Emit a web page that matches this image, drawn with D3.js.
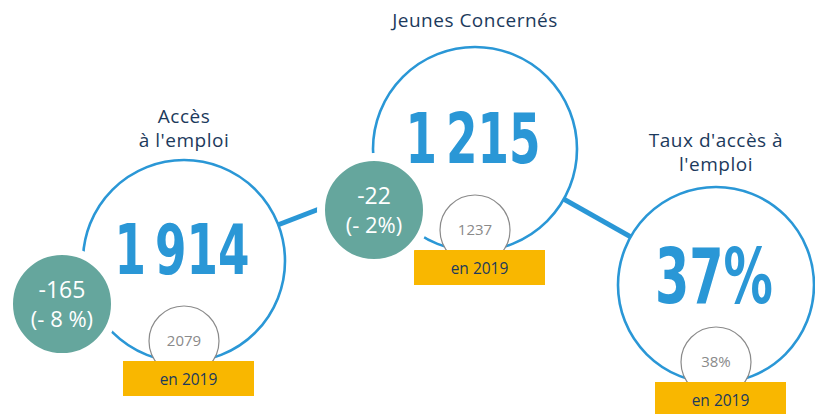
<!DOCTYPE html>
<html><head><meta charset="utf-8">
<script src="https://cdn.jsdelivr.net/npm/d3@7"></script>
<style>
html,body{margin:0;padding:0;background:#fff;}
svg{display:block;}
</style></head>
<body>
<svg id="chart" width="815" height="414"></svg>
<script>
// ---- data ----
const titles = [["Accès", "à l'emploi"], ["Jeunes Concernés"], ["Taux d'accès à", "l'emploi"]];
const values = ["1 914", "1 215", "37%"];
const changes = ["-165", "-22", null];
const changePct = ["(- 8 %)", "(- 2%)", null];
const previous = ["2079", "1237", "38%"];
const yearLabel = "en 2019";

// ---- layout (positions, not data) ----
const layout = [
  {cx: 184, cy: 261, r: 101, gx: 62,  gy: 304, titleY: 123, valueY: 274, valueW: 135, fs: 70},
  {cx: 475, cy: 149, r: 102, gx: 374, gy: 210, titleY: 27,  valueY: 163, valueW: 135, fs: 70},
  {cx: 716, cy: 285, r: 98,  gx: null, gy: null, titleY: 147, valueY: 303, valueW: 118, fs: 76}
];
const smallR = 35, gR = 53;
const blue = "#2a97d6", green = "#65a69d", yellow = "#f9b700", navy = "#1c3a5c", grey = "#8a8a8a";

const svg = d3.select("#chart");
const idx = d3.range(values.length);

// connectors
const link = d3.line().x(i => layout[i].cx).y(i => layout[i].cy);
svg.append("path").attr("d", link([0,1])).attr("stroke", blue).attr("stroke-width", 5).attr("fill", "none");
svg.append("path").attr("d", link([1,2])).attr("stroke", blue).attr("stroke-width", 5).attr("fill", "none");

const g = svg.selectAll("g.item").data(idx).join("g").attr("class", "item");

// main circles
g.append("circle")
  .attr("cx", i => layout[i].cx).attr("cy", i => layout[i].cy).attr("r", i => layout[i].r)
  .attr("fill", "#fff").attr("stroke", blue).attr("stroke-width", 2.6);

// titles
g.each(function(i) {
  const t = d3.select(this).append("text")
    .attr("text-anchor", "middle").attr("fill", navy)
    .attr("font-family", "'Open Sans', 'Noto Sans', sans-serif").attr("font-size", 19)
    .attr("letter-spacing", 0.5);
  titles[i].forEach((line, k) => {
    t.append("tspan").attr("x", layout[i].cx).attr("y", layout[i].titleY + k * 24).text(line);
  });
});

// big values (thin space between thousands)
g.append("text")
  .attr("x", i => layout[i].cx - 2).attr("y", i => layout[i].valueY)
  .attr("text-anchor", "middle").attr("fill", blue)
  .attr("font-family", "'Liberation Sans Narrow', 'DejaVu Sans Condensed', 'Roboto Condensed', sans-serif")
  .attr("font-weight", "bold").attr("font-size", i => layout[i].fs)
  .attr("textLength", i => layout[i].valueW).attr("lengthAdjust", "spacingAndGlyphs")
  .text(i => values[i].replace(" ", "\u2009"));

// small previous-year circles
g.append("circle")
  .attr("cx", i => layout[i].cx).attr("cy", i => layout[i].cy + layout[i].r - 21)
  .attr("r", smallR).attr("fill", "#fff").attr("stroke", grey).attr("stroke-width", 1.2);
g.append("text")
  .attr("x", i => layout[i].cx).attr("y", i => layout[i].cy + layout[i].r - 16)
  .attr("text-anchor", "middle").attr("fill", grey)
  .attr("font-family", "'Open Sans', 'Noto Sans', sans-serif").attr("font-size", 15)
  .text(i => previous[i]);

// yellow labels
g.append("rect")
  .attr("x", i => layout[i].cx - 61).attr("y", i => layout[i].cy + layout[i].r - 1)
  .attr("width", 131).attr("height", 35).attr("fill", yellow);
g.append("text")
  .attr("x", i => layout[i].cx + 4.5).attr("y", i => layout[i].cy + layout[i].r + 23)
  .attr("text-anchor", "middle").attr("fill", navy)
  .attr("font-family", "'Open Sans', 'Noto Sans', sans-serif").attr("font-size", 15.5)
  .text(yearLabel);

// green change bubbles
const gg = g.filter(i => changes[i] !== null);
gg.append("circle")
  .attr("cx", i => layout[i].gx).attr("cy", i => layout[i].gy).attr("r", gR)
  .attr("fill", green).attr("stroke", "#fff").attr("stroke-width", 8);
gg.append("text")
  .attr("x", i => layout[i].gx).attr("y", i => layout[i].gy - 6)
  .attr("text-anchor", "middle").attr("fill", "#fff")
  .attr("font-family", "'Open Sans', 'Noto Sans', sans-serif").attr("font-size", 23)
  .text(i => changes[i]);
gg.append("text")
  .attr("x", i => layout[i].gx).attr("y", i => layout[i].gy + 23)
  .attr("text-anchor", "middle").attr("fill", "#fff")
  .attr("font-family", "'Open Sans', 'Noto Sans', sans-serif").attr("font-size", 22)
  .text(i => changePct[i]);
</script>
</body></html>
